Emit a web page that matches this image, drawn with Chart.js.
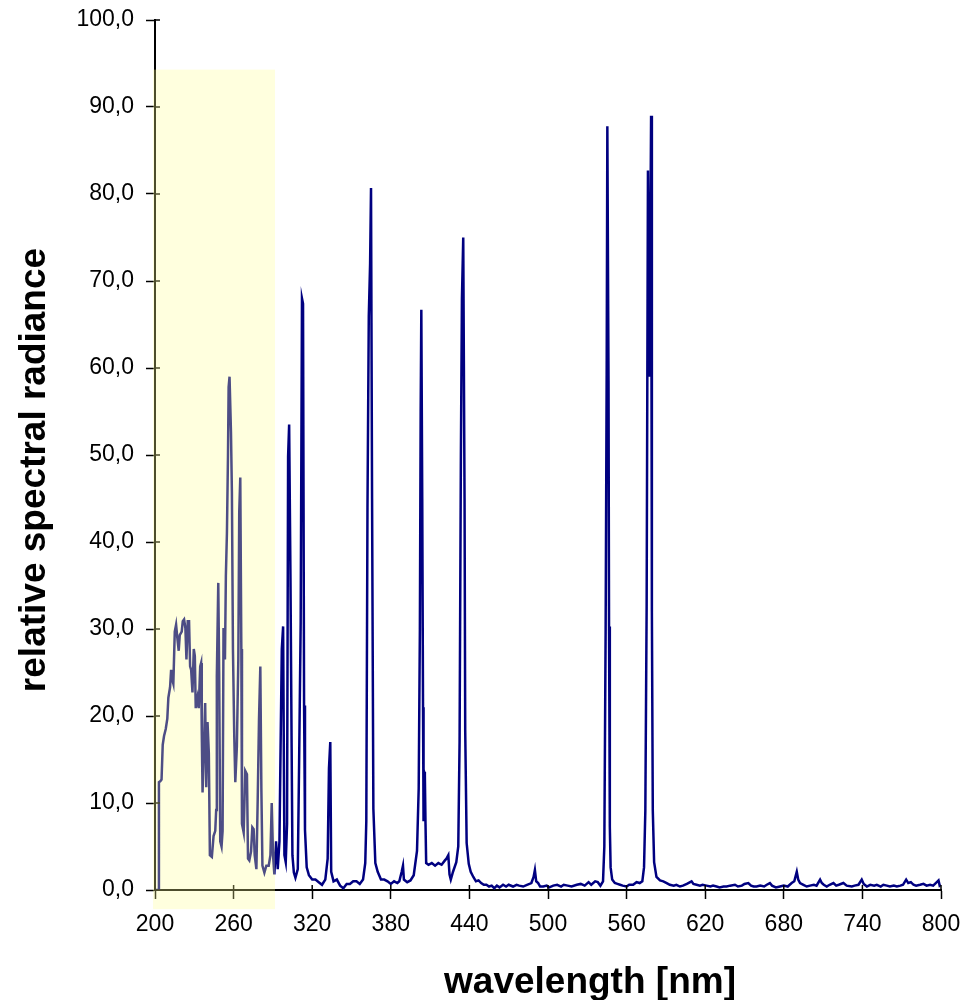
<!DOCTYPE html>
<html>
<head>
<meta charset="utf-8">
<title>relative spectral radiance</title>
<script src="https://cdn.jsdelivr.net/npm/chart.js@4/dist/chart.umd.min.js"></script>
<style>
  html, body { margin: 0; padding: 0; background: #fff; }
  #wrap { width: 969px; height: 1000px; position: relative; }
</style>
</head>
<body>
<div id="wrap"><canvas id="spectrumChart"></canvas></div>
<script>
'use strict';

// ============================================================
// DATA
// ============================================================
const wavelengths = [
  200, 202.5, 203, 204, 205, 205.9, 206.9, 208.2, 209.4, 210.2, 211.5, 212.3, 213.3, 214,
  215.1, 216.1, 217.1, 218.1, 218.9, 220.4, 221.2, 222.2, 223.2, 224, 225, 226, 226.8, 227.6,
  228.6, 229.6, 230.4, 231.1, 232.4, 233.4, 234.5, 235.2, 235.7, 236.3, 237.3, 238.3, 239.1,
  240.1, 241.1, 241.9, 243.4, 244.7, 246, 246.7, 247.2, 248.3, 249, 249.8, 250.8, 251.6, 252.3,
  253.4, 254.1, 254.9, 255.7, 256.2, 256.9, 258, 258.7, 259.5, 260.5, 261.3, 262.5, 263.6,
  264.3, 265.1, 265.9, 266.4, 267.7, 268.9, 270.2, 271, 272, 273.3, 274.3, 275.3, 276.1, 277.4,
  278.4, 279.4, 280.4, 281.2, 282, 283.5, 285, 286.8, 288.1, 289.1, 290.1, 291.1, 292.4, 293.7,
  295, 296, 296.8, 297.8, 298.8, 299.8, 300.8, 301.6, 302.4, 303.4, 304.3, 304.9, 306, 307.2,
  309, 310, 311.2, 312.2, 313, 313.8, 314.5, 315.8, 317.5, 320, 322.5, 325, 327.5, 330, 331.8,
  332.8, 333.8, 334.5, 336.3, 338.8, 341.3, 343.8, 346.3, 348.8, 351.3, 353.8, 356.3, 358.8,
  360.5, 361.3, 362.2, 363.2, 364.2, 364.9, 365.7, 366.7, 368.2, 370, 372.5, 375, 377.5, 380,
  382.5, 385, 386.5, 388.3, 389.3, 390, 392.5, 395, 397.5, 400, 401.3, 402.2, 402.8, 403.3,
  404, 404.6, 405, 405.4, 406, 406.5, 407, 408.8, 411.3, 413.8, 416.3, 418.8, 421.3, 422.5,
  423.9, 424.8, 425.8, 427.5, 430, 431.5, 432.5, 433.5, 434.3, 435.3, 436.3, 436.8, 437.9,
  439.5, 441, 443, 445, 447, 449, 451, 453, 455, 457, 459, 461, 463, 465.7, 468, 470, 473.3,
  476, 478, 481, 484, 487.3, 489, 490, 491, 492.5, 494, 496.4, 499, 501, 504, 507, 510, 512,
  515, 518, 522, 525, 528, 531, 533, 536, 538, 540, 542, 543, 544, 544.8, 545.3, 546.2, 546.6,
  547.2, 547.8, 549, 551, 553, 555, 557, 560, 562, 565, 567.6, 570, 572, 573.3, 574.3, 575.3,
  576.3, 577.3, 577.9, 578.7, 579.3, 580, 581, 582.8, 585.5, 588, 590.6, 593, 596, 598, 600.7,
  603, 606, 609.6, 611, 613.4, 616, 618, 621, 624, 626, 628.7, 631, 634, 636.3, 639, 642.7,
  645, 648, 650, 652.9, 655, 657, 659.2, 662, 665, 667, 669.4, 671, 674, 677.1, 680, 683, 686,
  688, 689.9, 691, 692.4, 695, 697.5, 700, 703, 705, 707.7, 709, 710.5, 712.8, 715, 717.9, 720,
  722, 725.5, 728, 731.9, 734, 737, 739.5, 741, 743.4, 746, 749, 751, 754, 756, 758.6, 761,
  764, 766.3, 769, 771, 773.4, 775, 777, 779, 781, 784, 786.6, 789, 791.7, 794, 796, 798.1,
  799, 800
];

const radiance = [
  0, 0, 12.4, 12.5, 12.7, 16.7, 17.7, 18.5, 19.7, 22.1, 23.3, 25.3, 24.1, 23.7,
  29.7, 30.5, 28.9, 27.5, 29.3, 29.7, 30.9, 31.1, 30.1, 26.5, 30.9, 30.9, 25.7, 25.3,
  22.7, 27.7, 26.9, 20.9, 22.1, 20.9, 25.7, 26.1, 18.1, 11.2, 16.5, 21.5, 11.8,
  19.3, 15.7, 4.0, 3.8, 6.2, 6.8, 9.2, 24.5, 35.3, 24.9, 5.6, 5.0, 6.8, 30.1,
  26.5, 36.1, 41.0, 49.8, 57.8, 59.0, 52.6, 45.8, 27.7, 17.7, 12.4, 16.5, 26.5,
  43.4, 47.4, 27.7, 7.6, 6.6, 13.7, 13.3, 3.6, 3.4, 4.4, 7.2, 7.0, 4.0, 2.4,
  10.4, 19.7, 25.7, 11.6, 2.8, 2.0, 2.8, 2.8, 4.0, 10.0, 4.0, 1.8, 5.6, 2.4,
  5.6, 18.1, 27.7, 30.3, 4.0, 3.2, 7.6, 49.8, 53.5, 36.1, 16.4, 4.0, 2.0, 1.4,
  2.4, 14.5, 30.7, 68.0, 67.4, 21.2, 6.9, 2.6, 1.7, 1.2, 1.2, 0.9, 0.6, 1.2, 3.6,
  14.0, 17.0, 2.1, 1.0, 1.2, 0.5, 0.2, 0.7, 0.7, 1.0, 1.0, 0.7, 1.2,
  3.1, 7.9, 44.0, 66.0, 72.0, 80.7, 45.0, 9.3, 3.1, 2.1, 1.2, 1.2, 1.0, 0.7,
  1.0, 0.8, 1.0, 2.1, 2.8, 1.2, 0.9, 1.1, 1.7, 4.5, 11.7, 30.0, 55.0, 66.7,
  45.0, 21.0, 7.9, 13.6, 13.2, 7.6, 3.1, 2.9, 3.1, 2.8, 3.1, 2.9, 3.4, 3.6,
  4.0, 1.8, 1.2, 2.1, 3.2, 5.0, 17.0, 50.0, 68.0, 75.0, 45.0, 18.4, 5.4,
  3.0, 2.1, 1.5, 1.0, 1.1, 0.8, 0.6, 0.6, 0.4, 0.5, 0.2, 0.5, 0.3, 0.6, 0.4, 0.6, 0.4,
  0.6, 0.5, 0.4, 0.6, 0.8, 1.5, 2.3, 1.0, 0.8, 0.4, 0.4, 0.5, 0.3, 0.5, 0.6, 0.4, 0.6,
  0.5, 0.4, 0.6, 0.7, 0.5, 0.9, 0.6, 1.0, 0.9, 0.5, 1.0, 5.0, 30.0, 60.0, 87.8, 58.5, 30.3,
  7.3, 2.6, 1.2, 0.8, 0.7, 0.6, 0.5, 0.4, 0.6, 0.6, 0.9, 0.8, 1.0, 2.6, 9.1, 32.6,
  82.7, 59.0, 70.0, 89.0, 32.0, 9.1, 3.2, 1.5, 1.1, 1.0, 0.8, 0.6, 0.5, 0.6, 0.4,
  0.5, 0.7, 1.0, 0.7, 0.6, 0.5, 0.6, 0.5, 0.4, 0.5, 0.4, 0.3, 0.4, 0.4, 0.5, 0.6,
  0.4, 0.5, 0.7, 0.8, 0.5, 0.4, 0.4, 0.5, 0.4, 0.6, 0.8, 0.5, 0.3, 0.4, 0.5, 0.4, 0.8,
  1.0, 2.1, 1.2, 0.8, 0.6, 0.4, 0.5, 0.6, 0.5, 1.2, 0.8, 0.6, 0.4, 0.6, 0.8, 0.5,
  0.6, 0.8, 0.5, 0.4, 0.5, 0.6, 1.2, 0.7, 0.4, 0.6, 0.5, 0.6, 0.4, 0.6, 0.5, 0.4,
  0.5, 0.4, 0.5, 0.6, 1.2, 0.8, 0.9, 0.6, 0.5, 0.6, 0.7, 0.5, 0.6, 0.5, 0.8, 1.1,
  0.5, 0.6
];

const xTickValues = [200, 260, 320, 380, 440, 500, 560, 620, 680, 740, 800];
const yTickValues = [0, 10, 20, 30, 40, 50, 60, 70, 80, 90, 100];

// shaded UV band (nm / radiance units)
const bandFrom = 198.5;
const bandTo = 291.6;
const bandTop = 94.3;
const bandBottom = -2.2;

const xTitle = 'wavelength [nm]';
const yTitle = 'relative spectral radiance';

// ============================================================
// PLUGINS
// ============================================================
const FONT = "'Liberation Sans', Arial, sans-serif";

// inner half of the "cross" tick marks
const innerTicks = {
  id: 'innerTicks',
  afterDraw(chart) {
    const { ctx, chartArea: a, scales: { x, y } } = chart;
    ctx.save();
    ctx.strokeStyle = '#000';
    ctx.lineWidth = 1.5;
    ctx.beginPath();
    xTickValues.forEach(v => { const px = x.getPixelForValue(v); ctx.moveTo(px, a.bottom); ctx.lineTo(px, a.bottom - 5); });
    yTickValues.forEach(v => { const py = y.getPixelForValue(v); ctx.moveTo(a.left, py); ctx.lineTo(a.left + 5, py); });
    ctx.stroke();
    ctx.restore();
  }
};

// translucent yellow band drawn over the trace and axis
const uvBand = {
  id: 'uvBand',
  afterDraw(chart) {
    const { ctx, scales: { x, y } } = chart;
    const l = x.getPixelForValue(bandFrom), r = x.getPixelForValue(bandTo);
    const t = y.getPixelForValue(bandTop), b = y.getPixelForValue(bandBottom);
    ctx.save();
    ctx.fillStyle = 'rgba(255,255,145,0.3)';
    ctx.fillRect(l, t, r - l, b - t);
    ctx.restore();
  }
};

// axis titles
const axisTitles = {
  id: 'axisTitles',
  afterDraw(chart) {
    const { ctx } = chart;
    ctx.save();
    ctx.fillStyle = '#000';
    ctx.font = `bold 37px ${FONT}`;
    ctx.textAlign = 'center';
    ctx.textBaseline = 'alphabetic';
    ctx.fillText(xTitle, 590, 993);
    ctx.translate(45, 470);
    ctx.rotate(-Math.PI / 2);
    ctx.fillText(yTitle, 0, 0);
    ctx.restore();
  }
};

// ============================================================
// CHART
// ============================================================
const points = wavelengths.map((w, i) => ({ x: w, y: radiance[i] }));

new Chart(document.getElementById('spectrumChart'), {
  type: 'line',
  data: {
    datasets: [{
      data: points,
      borderColor: '#000080',
      borderWidth: 2.5,
      pointRadius: 0,
      tension: 0,
      fill: false,
    }]
  },
  options: {
    responsive: true, maintainAspectRatio: false,
    animation: false,
    events: [],
    layout: { padding: { top: 20, right: 28, left: 0, bottom: 0 } },
    plugins: { legend: { display: false }, tooltip: { enabled: false } },
    scales: {
      x: {
        type: 'linear', min: 200, max: 800,
        afterBuildTicks: s => { s.ticks = xTickValues.map(v => ({ value: v })); },
        afterFit: s => { s.height = 110; s.paddingLeft = 0; s.paddingRight = 0; },
        ticks: { color: '#000', font: { family: FONT, size: 23 }, padding: 12, maxRotation: 0, autoSkip: false },
        grid: { drawOnChartArea: false, drawTicks: true, tickLength: 9, tickWidth: 1.5, tickColor: '#000' },
        border: { color: '#000', width: 2 },
      },
      y: {
        type: 'linear', min: 0, max: 100,
        afterBuildTicks: s => { s.ticks = yTickValues.map(v => ({ value: v })); },
        afterFit: s => { s.width = 155; s.paddingTop = 0; s.paddingBottom = 0; },
        ticks: {
          color: '#000', font: { family: FONT, size: 23 }, padding: 12, autoSkip: false,
          callback: v => v.toFixed(1).replace('.', ','),
        },
        grid: { drawOnChartArea: false, drawTicks: true, tickLength: 9, tickWidth: 1.5, tickColor: '#000' },
        border: { color: '#000', width: 2 },
      }
    }
  },
  plugins: [innerTicks, uvBand, axisTitles]
});
</script>
</body>
</html>
